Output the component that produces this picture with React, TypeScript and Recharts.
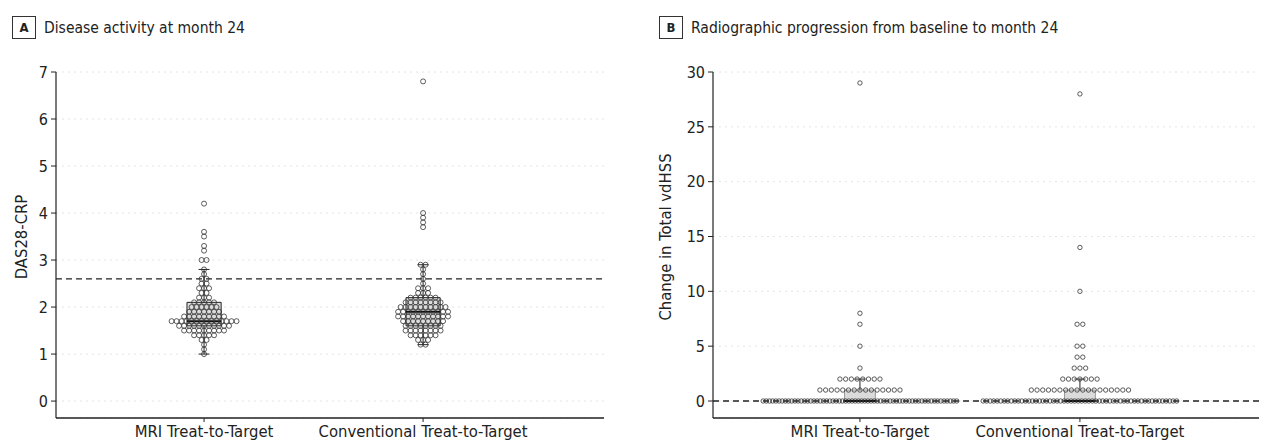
import React from 'react';
import { ScatterChart, Scatter, XAxis, YAxis, CartesianGrid, ReferenceLine, ReferenceArea } from 'recharts';

const groups = ['MRI Treat-to-Target', 'Conventional Treat-to-Target'];

// dot plot rows: [value, number of patients]
const dasMri = [
  [4.2, 1], [3.6, 1], [3.5, 1], [3.3, 1], [3.2, 1], [3.0, 2], [2.8, 1], [2.7, 1], [2.6, 2], [2.5, 2],
  [2.4, 3], [2.3, 2], [2.2, 3], [2.1, 5], [2.0, 6], [1.9, 7], [1.8, 9], [1.7, 14], [1.6, 11], [1.5, 9],
  [1.4, 5], [1.3, 2], [1.2, 1], [1.1, 1], [1.0, 1],
];
const dasConv = [
  [6.8, 1], [4.0, 1], [3.9, 1], [3.8, 1], [3.7, 1], [2.9, 2], [2.8, 1], [2.7, 1], [2.6, 1], [2.5, 1],
  [2.4, 3], [2.3, 3], [2.2, 6], [2.1, 8], [2.0, 10], [1.9, 11], [1.8, 11], [1.7, 9], [1.6, 8], [1.5, 8],
  [1.4, 6], [1.3, 3], [1.2, 2],
];
const vdhssMri = [[29, 1], [8, 1], [7, 1], [5, 1], [3, 1], [2, 8], [1, 15], [0, 62]];
const vdhssConv = [[28, 1], [14, 1], [10, 1], [7, 2], [5, 2], [4, 2], [3, 3], [2, 7], [1, 18], [0, 56]];

// whisker low, Q1, median, Q3, whisker high
const dasMriBox = [1.0, 1.6, 1.7, 2.1, 2.8];
const dasConvBox = [1.2, 1.6, 1.9, 2.2, 2.9];
const vdhssMriBox = [0, 0, 0, 1, 2];
const vdhssConvBox = [0, 0, 0, 1, 2];

const dasTicks = [0, 1, 2, 3, 4, 5, 6, 7];
const vdhssTicks = [0, 5, 10, 15, 20, 25, 30];
const remissionCut = 2.6;
const noProgression = 0;

const FONT = '"DejaVu Sans Condensed", "Liberation Sans Narrow", "Roboto", sans-serif';

// spread equal values side by side around the group centre
function swarm(rows: number[][], group: number, step: number, maxSpan: number) {
  const pts: { x: number; y: number }[] = [];
  rows.forEach(([v, n]) => {
    const gap = n > 1 ? Math.min(step, maxSpan / (n - 1)) : 0;
    for (let i = 0; i < n; i++) pts.push({ x: group + (i - (n - 1) / 2) * gap, y: v });
  });
  return pts;
}

const Panel = ({ left, width, yWidth, rightMargin, xDomain, yDomain, ticks, series, boxes, refY, r, step, maxSpan, boxHalf, boxStroke }: any) => {
  const dot = (p: any) => <circle cx={p.cx} cy={p.cy} r={r} fill="none" stroke="#333" strokeWidth={0.8} />;
  const cap = 0.025;
  return (
    <div style={{ position: 'absolute', left, top: 0 }}>
      <ScatterChart width={width} height={444} margin={{ top: 72, right: rightMargin, bottom: 0, left: 0 }}>
        <CartesianGrid vertical={false} stroke="#e4e4e4" strokeDasharray="2 4" />
        <XAxis
          type="number"
          dataKey="x"
          domain={xDomain}
          ticks={[0, 1]}
          interval={0}
          allowDataOverflow
          tickFormatter={(i: number) => groups[i]}
          height={26}
          tickSize={4}
          tickMargin={3}
          axisLine={{ stroke: '#222', strokeWidth: 1.5 }}
          tickLine={{ stroke: '#222' }}
          tick={{ fill: '#222', fontSize: 16.5 }}
        />
        <YAxis
          type="number"
          dataKey="y"
          domain={yDomain}
          ticks={ticks}
          interval={0}
          allowDataOverflow
          width={yWidth}
          tickSize={5}
          tickMargin={3}
          axisLine={{ stroke: '#222', strokeWidth: 1.2 }}
          tickLine={{ stroke: '#222' }}
          tick={{ fill: '#222', fontSize: 16 }}
        />
        {boxes.map((b: number[], g: number) => (
          <ReferenceArea key={'box' + g} x1={g - boxHalf} x2={g + boxHalf} y1={b[1]} y2={b[3]}
            fill="#bdbdbd" fillOpacity={0.55} stroke={boxStroke} strokeWidth={1} ifOverflow="visible" />
        ))}
        <ReferenceLine y={refY} stroke="#222" strokeWidth={1.3} strokeDasharray="6 4" />
        {series.map((rows: number[][], g: number) => (
          <Scatter key={'s' + g} data={swarm(rows, g, step, maxSpan)} shape={dot} isAnimationActive={false} />
        ))}
        {boxes.map((b: number[], g: number) => [
          <ReferenceLine key={'med' + g} segment={[{ x: g - boxHalf, y: b[2] }, { x: g + boxHalf, y: b[2] }]} stroke="#111" strokeWidth={2} />,
          <ReferenceLine key={'wu' + g} segment={[{ x: g, y: b[3] }, { x: g, y: b[4] }]} stroke="#222" strokeWidth={1} />,
          <ReferenceLine key={'cu' + g} segment={[{ x: g - cap, y: b[4] }, { x: g + cap, y: b[4] }]} stroke="#222" strokeWidth={1} />,
          b[1] > b[0] ? <ReferenceLine key={'wl' + g} segment={[{ x: g, y: b[0] }, { x: g, y: b[1] }]} stroke="#222" strokeWidth={1} /> : null,
          b[1] > b[0] ? <ReferenceLine key={'cl' + g} segment={[{ x: g - cap, y: b[0] }, { x: g + cap, y: b[0] }]} stroke="#222" strokeWidth={1} /> : null,
        ])}
      </ScatterChart>
    </div>
  );
};

const Title = ({ x, letter, text }: any) => (
  <div style={{ position: 'absolute', left: x, top: 16, display: 'flex', alignItems: 'center', fontSize: 15.5, color: '#222' }}>
    <span style={{ border: '1px solid #333', width: 22, height: 21, display: 'inline-flex', alignItems: 'center', justifyContent: 'center', fontWeight: 'bold', fontSize: 13, marginRight: 8 }}>{letter}</span>
    <span>{text}</span>
  </div>
);

const YTitle = ({ x, text }: any) => (
  <div style={{ position: 'absolute', left: x, top: 237, transform: 'translate(-50%, -50%) rotate(-90deg)', whiteSpace: 'nowrap', fontSize: 16.5, color: '#222' }}>{text}</div>
);

export default function App() {
  return (
    <div style={{ position: 'absolute', left: 0, top: 0, width: 1263, height: 444, background: '#fff', fontFamily: FONT, overflow: 'hidden' }}>
      <Panel left={0} width={620} yWidth={56} rightMargin={16} xDomain={[-0.676, 1.826]} yDomain={[-0.36, 7]}
        ticks={dasTicks} series={[dasMri, dasConv]} boxes={[dasMriBox, dasConvBox]} refY={remissionCut}
        r={2.5} step={0.0228} maxSpan={1} boxHalf={0.078} boxStroke="#222" />
      <Panel left={620} width={643} yWidth={93} rightMargin={4} xDomain={[-0.668, 1.814]} yDomain={[-1.55, 30]}
        ticks={vdhssTicks} series={[vdhssMri, vdhssConv]} boxes={[vdhssMriBox, vdhssConvBox]} refY={noProgression}
        r={2.2} step={0.026} maxSpan={0.88} boxHalf={0.07} boxStroke="#999" />
      <Title x={12} letter="A" text="Disease activity at month 24" />
      <Title x={659} letter="B" text="Radiographic progression from baseline to month 24" />
      <YTitle x={21} text="DAS28-CRP" />
      <YTitle x={665} text="Change in Total vdHSS" />
    </div>
  );
}
